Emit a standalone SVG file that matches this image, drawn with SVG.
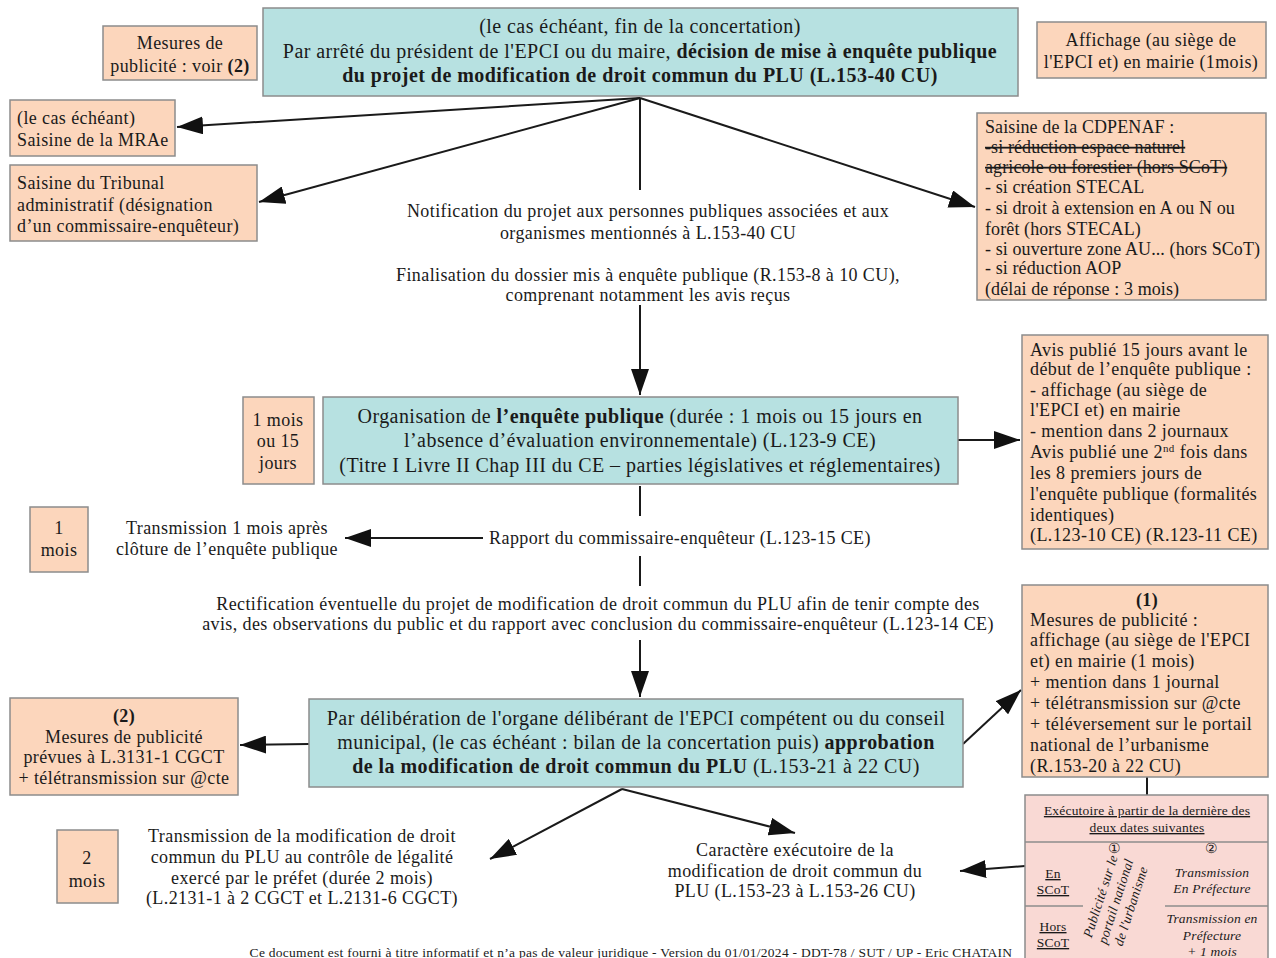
<svg xmlns="http://www.w3.org/2000/svg" width="1276" height="958" viewBox="0 0 1276 958">
<style>
text{font-family:"Liberation Serif","Times New Roman",serif;fill:#1a1a1a;}
.t16{font-size:18px;letter-spacing:0.4px;}
.t18{font-size:20px;letter-spacing:0.45px;}
.t12{font-size:13.5px;letter-spacing:0.2px;}
.tight{letter-spacing:0.1px;}
.c{text-anchor:middle;}
.b{font-weight:bold;}
.or{fill:#fcd6bc;stroke:#8c8c8c;stroke-width:1.5;}
.tl{fill:#b7e1e1;stroke:#8c8c8c;stroke-width:1.5;}
.pk{fill:#f9d9d4;stroke:#8c8c8c;stroke-width:1.5;}
.ln{stroke:#1a1a1a;stroke-width:2;fill:none;}
.tbl{stroke:#8c8c8c;stroke-width:1.5;fill:none;}
.st{text-decoration:line-through;}
.it{font-style:italic;}
.u{text-decoration:underline;}
</style>
<defs>
<marker id="ah" viewBox="0 0 26 18" refX="26" refY="9" markerWidth="26" markerHeight="18" markerUnits="userSpaceOnUse" orient="auto">
<path d="M0,0 L26,9 L0,18 Z" fill="#111"/>
</marker>
</defs>
<rect width="1276" height="958" fill="#ffffff"/>

<g id="connectors">
<line class="ln" x1="640" y1="98" x2="177" y2="127" marker-end="url(#ah)"/>
<line class="ln" x1="640" y1="98" x2="259" y2="202" marker-end="url(#ah)"/>
<line class="ln" x1="640" y1="98" x2="975" y2="207" marker-end="url(#ah)"/>
<line class="ln" x1="640" y1="98" x2="640" y2="190"/>
<line class="ln" x1="640" y1="305" x2="640" y2="395" marker-end="url(#ah)"/>
<line class="ln" x1="958" y1="440" x2="1020" y2="440" marker-end="url(#ah)"/>
<line class="ln" x1="640" y1="486" x2="640" y2="516"/>
<line class="ln" x1="640" y1="556" x2="640" y2="586"/>
<line class="ln" x1="640" y1="640" x2="640" y2="697" marker-end="url(#ah)"/>
<line class="ln" x1="483" y1="538" x2="345" y2="538" marker-end="url(#ah)"/>
<line class="ln" x1="309" y1="744" x2="240" y2="745" marker-end="url(#ah)"/>
<line class="ln" x1="963" y1="744" x2="1021" y2="690" marker-end="url(#ah)"/>
<line class="ln" x1="622" y1="789" x2="490" y2="859" marker-end="url(#ah)"/>
<line class="ln" x1="622" y1="789" x2="795" y2="833" marker-end="url(#ah)"/>
<line class="ln" x1="1025" y1="866" x2="960" y2="871" marker-end="url(#ah)"/>
<line class="ln" x1="1147" y1="777" x2="1147" y2="795"/>
</g>

<g id="n-top">
<rect class="tl" x="263" y="8" width="755" height="88"/>
<text class="t18 c" x="640" y="33">(le cas échéant, fin de la concertation)</text>
<text class="t18 c" x="640" y="58">Par arrêté du président de l'EPCI ou du maire, <tspan class="b">décision de mise à enquête publique</tspan></text>
<text class="t18 c b" x="640" y="82">du projet de modification de droit commun du PLU (L.153-40 CU)</text>
</g>

<g id="n-mesures2ref">
<rect class="or" x="103" y="26" width="154" height="54"/>
<text class="t16 c" x="180" y="49">Mesures de</text>
<text class="t16 c" x="180" y="72">publicité : voir <tspan class="b">(2)</tspan></text>
</g>

<g id="n-affichage">
<rect class="or" x="1037" y="22" width="229" height="56"/>
<text class="t16 c" x="1151" y="46">Affichage (au siège de</text>
<text class="t16 c" x="1151" y="68">l'EPCI et) en mairie (1mois)</text>
</g>

<g id="n-mrae">
<rect class="or" x="10" y="100" width="165" height="56"/>
<text class="t16" x="17" y="124">(le cas échéant)</text>
<text class="t16" x="17" y="146">Saisine de la MRAe</text>
</g>

<g id="n-tribunal">
<rect class="or" x="10" y="165" width="247" height="76"/>
<text class="t16" x="17" y="189">Saisine du Tribunal</text>
<text class="t16" x="17" y="211">administratif (désignation</text>
<text class="t16" x="17" y="232">d’un commissaire-enquêteur)</text>
</g>

<g id="n-cdpenaf">
<rect class="or" x="977" y="113" width="289" height="187"/>
<text class="t16 tight" x="985" y="133">Saisine de la CDPENAF :</text>
<text class="t16 tight st" x="985" y="153">-si réduction espace naturel</text>
<text class="t16 tight st" x="985" y="173">agricole ou forestier (hors SCoT)</text>
<text class="t16 tight" x="985" y="193">- si création STECAL</text>
<text class="t16 tight" x="985" y="214">- si droit à extension en A ou N ou</text>
<text class="t16 tight" x="985" y="235">forêt (hors STECAL)</text>
<text class="t16 tight" x="985" y="255">- si ouverture zone AU... (hors SCoT)</text>
<text class="t16 tight" x="985" y="274">- si réduction AOP</text>
<text class="t16 tight" x="985" y="295">(délai de réponse : 3 mois)</text>
</g>

<g id="n-notification">
<text class="t16 c" x="648" y="217">Notification du projet aux personnes publiques associées et aux</text>
<text class="t16 c" x="648" y="239">organismes mentionnés à L.153-40 CU</text>
<text class="t16 c" x="648" y="281">Finalisation du dossier mis à enquête publique (R.153-8 à 10 CU),</text>
<text class="t16 c" x="648" y="301">comprenant notamment les avis reçus</text>
</g>

<g id="n-duree1">
<rect class="or" x="243" y="397" width="71" height="87"/>
<text class="t16 c" x="278" y="426">1 mois</text>
<text class="t16 c" x="278" y="447">ou 15</text>
<text class="t16 c" x="278" y="469">jours</text>
</g>

<g id="n-enquete">
<rect class="tl" x="323" y="397" width="635" height="87"/>
<text class="t18 c" x="640" y="423">Organisation de <tspan class="b">l’enquête publique</tspan> (durée : 1 mois ou 15 jours en</text>
<text class="t18 c" x="640" y="447">l’absence d’évaluation environnementale) (L.123-9 CE)</text>
<text class="t18 c" x="640" y="472">(Titre I Livre II Chap III du CE – parties législatives et réglementaires)</text>
</g>

<g id="n-avis">
<rect class="or" x="1022" y="335" width="246" height="214"/>
<text class="t16" x="1030" y="356">Avis publié 15 jours avant le</text>
<text class="t16" x="1030" y="375">début de l’enquête publique  :</text>
<text class="t16" x="1030" y="396"> - affichage (au siège de</text>
<text class="t16" x="1030" y="416">l'EPCI et) en mairie</text>
<text class="t16" x="1030" y="437"> - mention dans 2 journaux</text>
<text class="t16" x="1030" y="458">Avis publié une 2<tspan font-size="11" dy="-6">nd</tspan><tspan dy="6"> fois dans</tspan></text>
<text class="t16" x="1030" y="479">les 8 premiers jours de</text>
<text class="t16" x="1030" y="500">l'enquête publique (formalités</text>
<text class="t16" x="1030" y="521">identiques)</text>
<text class="t16" x="1030" y="541">(L.123-10 CE) (R.123-11 CE)</text>
</g>

<g id="n-duree2">
<rect class="or" x="30" y="507" width="58" height="65"/>
<text class="t16 c" x="59" y="534">1</text>
<text class="t16 c" x="59" y="556">mois</text>
</g>

<g id="n-transmission1">
<text class="t16 c" x="227" y="534">Transmission 1 mois après</text>
<text class="t16 c" x="227" y="555">clôture de l’enquête publique</text>
</g>

<g id="n-rapport">
<text class="t16 c" x="680" y="544">Rapport du commissaire-enquêteur (L.123-15 CE)</text>
</g>

<g id="n-rectification">
<text class="t16 c" x="598" y="610">Rectification éventuelle du projet de modification de droit commun du PLU afin de tenir compte des</text>
<text class="t16 c" x="598" y="630">avis, des observations du public et du rapport avec conclusion du commissaire-enquêteur (L.123-14 CE)</text>
</g>

<g id="n-mesures1">
<rect class="or" x="1022" y="585" width="246" height="192"/>
<text class="t16 c b" x="1147" y="606">(1)</text>
<text class="t16" x="1030" y="626">Mesures de publicité :</text>
<text class="t16" x="1030" y="646">affichage (au siège de l'EPCI</text>
<text class="t16" x="1030" y="667">et) en mairie (1 mois)</text>
<text class="t16" x="1030" y="688">+ mention dans 1 journal</text>
<text class="t16" x="1030" y="709">+ télétransmission sur @cte</text>
<text class="t16" x="1030" y="730">+ téléversement sur le portail</text>
<text class="t16" x="1030" y="751">national de l’urbanisme</text>
<text class="t16" x="1030" y="772">(R.153-20 à 22 CU)</text>
</g>

<g id="n-mesures2">
<rect class="or" x="10" y="698" width="228" height="97"/>
<text class="t16 c b" x="124" y="722">(2)</text>
<text class="t16 c" x="124" y="743">Mesures de publicité</text>
<text class="t16 c" x="124" y="763">prévues à L.3131-1 CGCT</text>
<text class="t16 c" x="124" y="784">+ télétransmission sur @cte</text>
</g>

<g id="n-approbation">
<rect class="tl" x="309" y="699" width="654" height="88"/>
<text class="t18 c" x="636" y="725">Par délibération de l'organe délibérant de l'EPCI compétent ou du conseil</text>
<text class="t18 c" x="636" y="749">municipal, (le cas échéant : bilan de la concertation puis) <tspan class="b">approbation</tspan></text>
<text class="t18 c" x="636" y="773"><tspan class="b">de la modification de droit commun du PLU</tspan> (L.153-21 à 22 CU)</text>
</g>

<g id="n-duree3">
<rect class="or" x="57" y="830" width="61" height="73"/>
<text class="t16 c" x="87" y="864">2</text>
<text class="t16 c" x="87" y="887">mois</text>
</g>

<g id="n-transmission2">
<text class="t16 c" x="302" y="842">Transmission de la modification de droit</text>
<text class="t16 c" x="302" y="863">commun du PLU au contrôle de légalité</text>
<text class="t16 c" x="302" y="884">exercé par le préfet (durée 2 mois)</text>
<text class="t16 c" x="302" y="904">(L.2131-1 à 2 CGCT et L.2131-6 CGCT)</text>
</g>

<g id="n-caractere">
<text class="t16 c" x="795" y="856">Caractère exécutoire de la</text>
<text class="t16 c" x="795" y="877">modification de droit commun du</text>
<text class="t16 c" x="795" y="897">PLU (L.153-23 à L.153-26 CU)</text>
</g>

<g id="n-table">
<rect class="pk" x="1025" y="795" width="243" height="170"/>
<line class="tbl" x1="1025" y1="842" x2="1268" y2="842"/>
<line class="tbl" x1="1025" y1="906" x2="1083" y2="906"/>
<line class="tbl" x1="1165" y1="906" x2="1268" y2="906"/>
<text class="t12 c u" x="1147" y="815">Exécutoire à partir de la dernière des</text>
<text class="t12 c u" x="1147" y="832">deux dates suivantes</text>
<text class="t12 c" x="1115" y="853">①</text>
<text class="t12 c" x="1212" y="853">②</text>
<text class="t12 c u" x="1053" y="878">En</text>
<text class="t12 c u" x="1053" y="894">SCoT</text>
<text class="t12 c u" x="1053" y="931">Hors</text>
<text class="t12 c u" x="1053" y="947">SCoT</text>
<g transform="translate(1118,902) rotate(-72)">
<text class="t12 c it" x="0" y="-14">Publicité sur le</text>
<text class="t12 c it" x="0" y="2">portail national</text>
<text class="t12 c it" x="0" y="18">de l'urbanisme</text>
</g>
<text class="t12 c it" x="1212" y="877">Transmission</text>
<text class="t12 c it" x="1212" y="893">En Préfecture</text>
<text class="t12 c it" x="1212" y="923">Transmission en</text>
<text class="t12 c it" x="1212" y="940">Préfecture</text>
<text class="t12 c it" x="1212" y="956">+ 1 mois</text>
</g>

<g id="n-footer">
<text class="c" font-size="13.5" letter-spacing="0.27" x="631" y="957">Ce document est fourni à titre informatif et n’a pas de valeur juridique - Version du 01/01/2024 - DDT-78 / SUT / UP - Eric CHATAIN</text>
</g>
</svg>
